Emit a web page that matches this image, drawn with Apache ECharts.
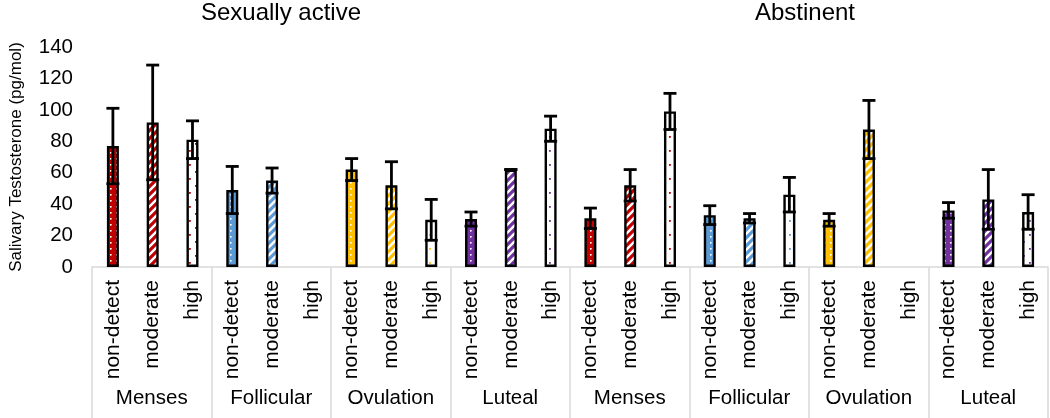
<!DOCTYPE html>
<html>
<head>
<meta charset="utf-8">
<script src="https://cdn.jsdelivr.net/npm/echarts@6/dist/echarts.min.js"></script>
<style>
html, body { margin: 0; padding: 0; background: #fff; }
#chart { width: 1050px; height: 418px; }
</style>
</head>
<body>
<div id="chart"></div>
<script>
// data
var groups = ['Sexually active', 'Abstinent'];
var phases = ['Menses', 'Follicular', 'Ovulation', 'Luteal'];
var levels = ['non-detect', 'moderate', 'high'];
var phaseColors = ['#C00000', '#5B9BD5', '#FFC000', '#7030A0'];
// means and +/- error, ordered phase by level
var activeMeans = [77, 92, 81, 49, 55, null, 62, 52, 30, 30.5, 62, 88];
var activeErr = [24, 36.5, 12, 15, 8, null, 7, 15, 13, 4.5, 0, 8];
var abstinentMeans = [31, 52, 99, 33, 31, 46, 30, 87.5, null, 36, 43, 35];
var abstinentErr = [6.5, 10, 11.5, 6, 3, 11, 4, 18.5, null, 5, 19, 11];
var yMin = 0, yMax = 140, yStep = 20;

var FONT = "'Liberation Sans', Arial, sans-serif";
var chart = echarts.init(document.getElementById('chart'));

// pattern fills
function dotsOn(color) {
    var c = document.createElement('canvas');
    c.width = 6; c.height = 6;
    var ctx = c.getContext('2d');
    ctx.fillStyle = color; ctx.fillRect(0, 0, 6, 6);
    ctx.fillStyle = '#fff'; ctx.fillRect(2, 2, 1.6, 1.6);
    return { image: c, repeat: 'repeat' };
}
function stripes(color) {
    var c = document.createElement('canvas');
    c.width = 8; c.height = 8;
    var ctx = c.getContext('2d');
    ctx.fillStyle = '#fff'; ctx.fillRect(0, 0, 8, 8);
    ctx.strokeStyle = color; ctx.lineWidth = 3.2;
    ctx.beginPath();
    ctx.moveTo(-4, 4); ctx.lineTo(4, -4);
    ctx.moveTo(0, 8); ctx.lineTo(8, 0);
    ctx.moveTo(4, 12); ctx.lineTo(12, 4);
    ctx.stroke();
    return { image: c, repeat: 'repeat' };
}
function sparseDots(color) {
    var c = document.createElement('canvas');
    c.width = 12; c.height = 14;
    var ctx = c.getContext('2d');
    ctx.fillStyle = '#fff'; ctx.fillRect(0, 0, 12, 14);
    ctx.fillStyle = color;
    ctx.fillRect(3, 3, 1.8, 1.8);
    ctx.fillRect(9, 10, 1.8, 1.8);
    return { image: c, repeat: 'repeat' };
}
var makers = [dotsOn, stripes, sparseDots];

var levelCats = [], phaseCats = [], barData = [], errData = [];
var allMeans = [activeMeans, abstinentMeans];
var allErr = [activeErr, abstinentErr];
for (var g = 0; g < groups.length; g++) {
    for (var p = 0; p < phases.length; p++) {
        phaseCats.push(phases[p]);
        for (var l = 0; l < levels.length; l++) {
            var k = p * levels.length + l;
            var idx = levelCats.length;
            levelCats.push(levels[l]);
            var v = allMeans[g][k];
            if (v == null) {
                barData.push('-');
                continue;
            }
            barData.push({
                value: v,
                itemStyle: {
                    color: makers[l](phaseColors[p]),
                    borderColor: '#000',
                    borderWidth: 2.4
                }
            });
            errData.push([idx, v, allErr[g][k]]);
        }
    }
}

function renderError(params, api) {
    var x = api.value(0), m = api.value(1), e = api.value(2);
    var top = api.coord([x, m + e]);
    var bot = api.coord([x, m - e]);
    var half = 6.5;
    var st = { stroke: '#000', lineWidth: 2.8 };
    return {
        type: 'group',
        children: [
            { type: 'line', shape: { x1: top[0], y1: top[1], x2: bot[0], y2: bot[1] }, style: st },
            { type: 'line', shape: { x1: top[0] - half, y1: top[1], x2: top[0] + half, y2: top[1] }, style: st },
            { type: 'line', shape: { x1: bot[0] - half, y1: bot[1], x2: bot[0] + half, y2: bot[1] }, style: st }
        ]
    };
}

var option = {
    animation: false,
    backgroundColor: '#fff',
    textStyle: { fontFamily: FONT },
    title: [
        { text: groups[0], left: 281, top: 1, padding: 0, textAlign: 'center',
          textStyle: { fontFamily: FONT, fontSize: 24, fontWeight: 'normal', color: '#000' } },
        { text: groups[1], left: 805, top: 1, padding: 0, textAlign: 'center',
          textStyle: { fontFamily: FONT, fontSize: 24, fontWeight: 'normal', color: '#000' } }
    ],
    grid: [
        { left: 92, right: 2, top: 47, bottom: 151 },
        { left: 92, right: 2, top: 47, bottom: 151 }
    ],
    xAxis: [
        {
            type: 'category',
            gridIndex: 0,
            data: levelCats,
            axisLine: { show: false },
            axisTick: { show: false },
            axisLabel: { interval: 0, rotate: 90, margin: 13, fontSize: 21, color: '#000', fontFamily: FONT }
        },
        {
            type: 'category',
            gridIndex: 1,
            data: phaseCats,
            axisLine: { show: true, lineStyle: { color: '#D9D9D9', width: 1.5 } },
            axisTick: { show: true, length: 151, lineStyle: { color: '#D9D9D9', width: 1.5 } },
            axisLabel: { interval: 0, margin: 121, fontSize: 20.5, color: '#000', fontFamily: FONT }
        }
    ],
    yAxis: [
        {
            type: 'value',
            gridIndex: 0,
            min: yMin, max: yMax, interval: yStep,
            name: 'Salivary Testosterone (pg/mol)',
            nameLocation: 'middle',
            nameGap: 68,
            nameTextStyle: { fontSize: 17, color: '#000', fontFamily: FONT },
            axisLine: { show: false },
            axisTick: { show: false },
            splitLine: { show: false },
            axisLabel: { margin: 20, fontSize: 20.5, color: '#000', fontFamily: FONT }
        },
        {
            type: 'value',
            gridIndex: 1,
            min: yMin, max: yMax,
            show: false
        }
    ],
    series: [
        {
            type: 'bar',
            xAxisIndex: 0, yAxisIndex: 0,
            barWidth: 12,
            data: barData
        },
        {
            type: 'custom',
            xAxisIndex: 0, yAxisIndex: 0,
            renderItem: renderError,
            encode: { x: 0, y: 1 },
            data: errData,
            z: 5
        }
    ]
};
chart.setOption(option);
</script>
</body>
</html>
